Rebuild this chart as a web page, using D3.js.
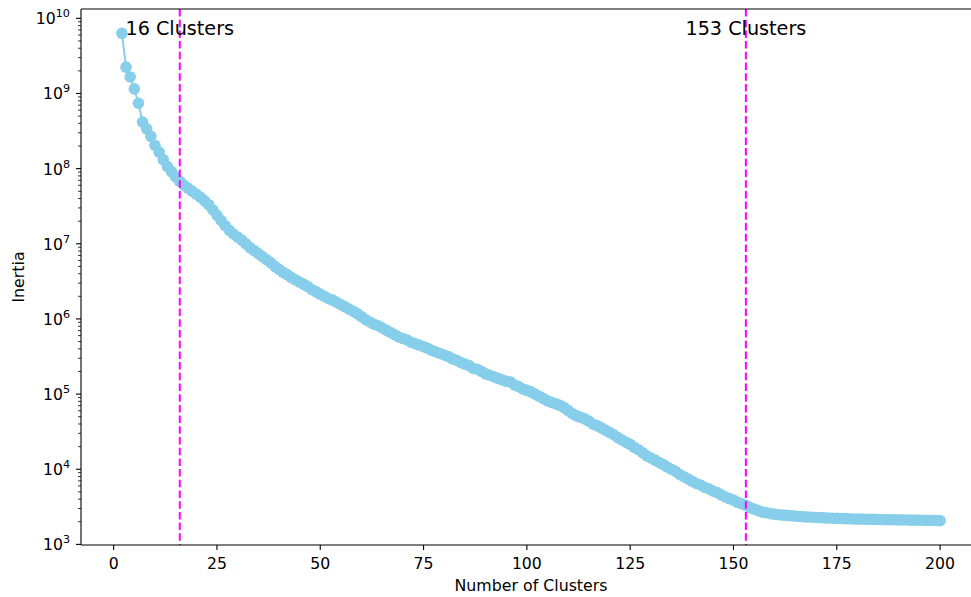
<!DOCTYPE html>
<html>
<head>
<meta charset="utf-8">
<script src="https://cdn.jsdelivr.net/npm/d3@7"></script>
<style>
  body { margin: 0; background: #fff; }
  text { font-family: "DejaVu Sans", sans-serif; fill: #000; }
</style>
</head>
<body>
<svg id="chart" width="971" height="597"></svg>
<script>
// k values tried by the elbow search
const clusterCounts = d3.range(2, 201)

// inertia for k = 2..200
const inertia = [
  6.31e9, 2.24e9, 1.66e9, 1.15e9, 7.41e8, 4.17e8, 3.39e8, 2.69e8, 2.04e8,      // 2-10
  1.66e8, 1.32e8, 1.07e8, 9.12e7, 7.76e7, 6.76e7, 6.03e7, 5.50e7, 5.01e7, 4.57e7, // 11-20
  4.17e7, 3.72e7, 3.31e7, 2.82e7, 2.40e7, 2.04e7, 1.74e7, 1.51e7, 1.35e7, 1.23e7, // 21-30
  1.12e7, 1.00e7, 8.91e6, 8.13e6, 7.41e6, 6.76e6, 6.17e6, 5.62e6, 5.01e6, 4.57e6, // 31-40
  4.17e6, 3.89e6, 3.55e6, 3.31e6, 3.09e6, 2.88e6, 2.69e6, 2.45e6, 2.29e6, 2.14e6, // 41-50
  2.00e6, 1.86e6, 1.78e6, 1.66e6, 1.55e6, 1.45e6, 1.35e6, 1.26e6, 1.17e6, 1.07e6, // 51-60
  9.77e5, 9.12e5, 8.51e5, 8.13e5, 7.59e5, 7.08e5, 6.61e5, 6.17e5, 5.75e5, 5.50e5, // 61-70
  5.25e5, 4.90e5, 4.68e5, 4.47e5, 4.27e5, 4.07e5, 3.80e5, 3.63e5, 3.47e5, 3.31e5, // 71-80
  3.16e5, 2.95e5, 2.82e5, 2.63e5, 2.51e5, 2.40e5, 2.19e5, 2.14e5, 2.00e5, 1.86e5, // 81-90
  1.78e5, 1.70e5, 1.62e5, 1.55e5, 1.48e5, 1.45e5, 1.32e5, 1.26e5, 1.17e5, 1.12e5, // 91-100
  1.07e5, 1.00e5, 9.33e4, 8.71e4, 8.13e4, 7.76e4, 7.41e4, 7.08e4, 6.61e4, 6.03e4, // 101-110
  5.50e4, 5.13e4, 4.90e4, 4.68e4, 4.37e4, 3.98e4, 3.80e4, 3.55e4, 3.31e4, 3.09e4, // 111-120
  2.88e4, 2.63e4, 2.45e4, 2.29e4, 2.14e4, 1.95e4, 1.82e4, 1.66e4, 1.51e4, 1.41e4, // 121-130
  1.32e4, 1.23e4, 1.15e4, 1.07e4, 1.00e4, 9330, 8510, 7940, 7410, 6920,           // 131-140
  6460, 6170, 5750, 5500, 5130, 4900, 4570, 4270, 4070, 3890,                     // 141-150
  3630, 3470, 3310, 3090, 2950, 2820, 2690, 2630, 2570, 2510,                     // 151-160
  2480, 2450, 2430, 2400, 2380, 2350, 2330, 2310, 2300, 2280,                     // 161-170
  2270, 2250, 2240, 2230, 2220, 2210, 2200, 2190, 2180, 2170,                     // 171-180
  2165, 2160, 2155, 2150, 2145, 2140, 2135, 2130, 2125, 2120,                     // 181-190
  2115, 2110, 2105, 2100, 2095, 2090, 2085, 2080, 2075, 2070                      // 191-200
]

const elbows = [16, 153]
const xTicks = [0, 25, 50, 75, 100, 125, 150, 175, 200]
const yExponents = [3, 4, 5, 6, 7, 8, 9, 10]

const svg = d3.select("#chart")
const plotLeft = 81, plotRight = 981, plotTop = 9, plotBottom = 545

// matplotlib style 5% margins
const xExt = d3.extent(clusterCounts)
const xPad = (xExt[1] - xExt[0]) * 0.05
const x = d3.scaleLinear()
    .domain([xExt[0] - xPad, xExt[1] + xPad])
    .range([plotLeft, plotRight])

const lExt = d3.extent(inertia).map(Math.log10)
const lPad = (lExt[1] - lExt[0]) * 0.05
const y = d3.scaleLog()
    .domain([Math.pow(10, lExt[0] - lPad), Math.pow(10, lExt[1] + lPad)])
    .range([plotBottom, plotTop])

const points = clusterCounts.map((k, i) => ({ k: k, v: inertia[i] }))

var line = d3.line()
    .x(d => x(d.k))
    .y(d => y(d.v))

svg.append("path")
    .datum(points)
    .attr("d", line)
    .attr("fill", "none")
    .attr("stroke", "skyblue")
    .attr("stroke-width", 2)

svg.append("g")
    .selectAll("circle")
    .data(points)
    .enter()
    .append("circle")
    .attr("cx", d => x(d.k))
    .attr("cy", d => y(d.v))
    .attr("r", 5.8)
    .attr("fill", "skyblue")

// elbow markers
svg.append("g")
    .selectAll("line")
    .data(elbows)
    .enter()
    .append("line")
    .attr("x1", d => x(d)).attr("x2", d => x(d))
    .attr("y1", plotTop).attr("y2", plotBottom)
    .attr("stroke", "#ff00ff")
    .attr("stroke-width", 2)
    .attr("stroke-dasharray", "7.5,3.2")

// spines
function spine(x1, y1, x2, y2) {
    svg.append("line")
        .attr("x1", x1).attr("y1", y1).attr("x2", x2).attr("y2", y2)
        .attr("stroke", "#000").attr("stroke-width", 1.1)
}
spine(plotLeft, plotTop, plotLeft, plotBottom)
spine(plotLeft, plotBottom, plotRight, plotBottom)
spine(plotLeft, plotTop, plotRight, plotTop)
spine(plotRight, plotTop, plotRight, plotBottom)

// x axis
var xg = svg.append("g")
xg.selectAll("line")
    .data(xTicks)
    .enter()
    .append("line")
    .attr("x1", d => x(d)).attr("x2", d => x(d))
    .attr("y1", plotBottom).attr("y2", plotBottom + 5)
    .attr("stroke", "#000").attr("stroke-width", 1.1)
xg.selectAll("text")
    .data(xTicks)
    .enter()
    .append("text")
    .attr("x", d => x(d))
    .attr("y", plotBottom + 23.5)
    .attr("text-anchor", "middle")
    .style("font-size", "15.7px")
    .text(d => d)

// y axis, major ticks
var yg = svg.append("g")
yg.selectAll("line.major")
    .data(yExponents)
    .enter()
    .append("line")
    .attr("class", "major")
    .attr("x1", plotLeft - 5).attr("x2", plotLeft)
    .attr("y1", d => y(Math.pow(10, d))).attr("y2", d => y(Math.pow(10, d)))
    .attr("stroke", "#000").attr("stroke-width", 1.1)

var labels = yg.selectAll("text")
    .data(yExponents)
    .enter()
    .append("text")
    .attr("x", 70)
    .attr("y", d => y(Math.pow(10, d)) + 6)
    .attr("text-anchor", "end")
    .style("font-size", "15.7px")
labels.append("tspan").text("10")
labels.append("tspan")
    .attr("dy", -7)
    .style("font-size", "11.2px")
    .text(d => d)

// y axis, minor ticks
const [dMin, dMax] = y.domain()
var minor = []
for (let e = Math.floor(Math.log10(dMin)); e <= Math.ceil(Math.log10(dMax)); e++) {
    for (let m = 2; m <= 9; m++) {
        const v = m * Math.pow(10, e)
        if (v >= dMin && v <= dMax) minor.push(v)
    }
}
yg.selectAll("line.minor")
    .data(minor)
    .enter()
    .append("line")
    .attr("class", "minor")
    .attr("x1", plotLeft - 3).attr("x2", plotLeft)
    .attr("y1", d => y(d)).attr("y2", d => y(d))
    .attr("stroke", "#000").attr("stroke-width", 0.8)

// axis titles
svg.append("text")
    .attr("x", (plotLeft + plotRight) / 2)
    .attr("y", 591)
    .attr("text-anchor", "middle")
    .style("font-size", "15.8px")
    .text("Number of Clusters")

svg.append("text")
    .attr("transform", "translate(24," + ((plotTop + plotBottom) / 2) + ") rotate(-90)")
    .attr("text-anchor", "middle")
    .style("font-size", "15.8px")
    .text("Inertia")

// elbow labels
svg.append("g")
    .selectAll("text")
    .data(elbows)
    .enter()
    .append("text")
    .attr("x", d => x(d))
    .attr("y", y(d3.max(inertia)) + 2)
    .attr("text-anchor", "middle")
    .style("font-size", "19.2px")
    .text(d => d + " Clusters")
</script>
</body>
</html>
